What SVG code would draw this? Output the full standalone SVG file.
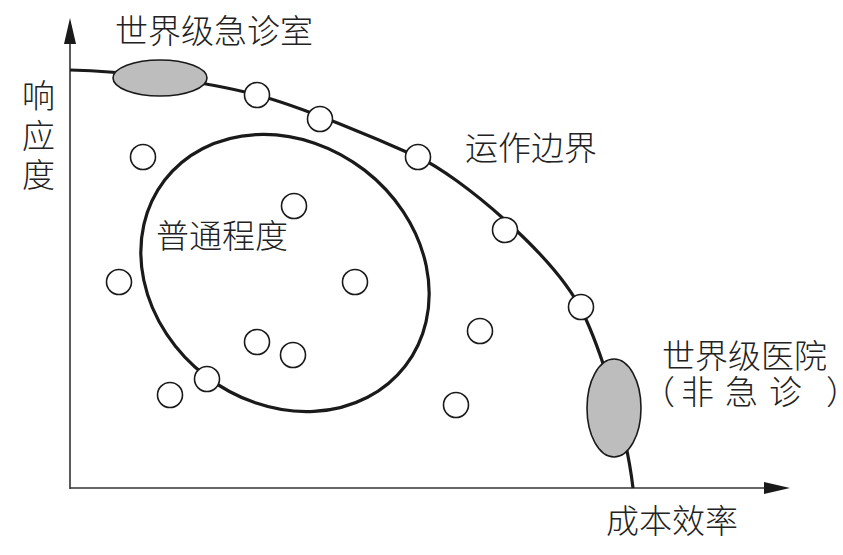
<svg xmlns="http://www.w3.org/2000/svg" width="843" height="555" viewBox="0 0 843 555">
<style>
.t{font-family:"Noto Sans CJK SC","Noto Sans CJK JP",sans-serif;font-size:33px;fill:#222;font-weight:300}
.dot{fill:#fff;stroke:#1a1a1a;stroke-width:1.6}
.blob{fill:#bdbdbd;stroke:#1a1a1a;stroke-width:1.6}
.ax{stroke:#333;stroke-width:1.6;fill:none}
.line{stroke:#1a1a1a;stroke-width:3.2;fill:none}
.head{fill:#1a1a1a}
</style>
<rect width="843" height="555" fill="#fff"/>
<g id="connectors">
<path class="ax" d="M70,489 V40"/>
<path class="head" d="M64,44 L70,18 L76,44 Z"/>
<path class="ax" d="M70,488 H766"/>
<path class="head" d="M764,482 L790,488 L764,494 Z"/>
<path class="line" d="M70,70 C120,71 200,80 257,95 C300,106 380,140 418,157 C458,175 555,255 583,313 C597,342 625,420 633,488"/>
</g>
<g id="ordinary">
<ellipse cx="285" cy="273" rx="152" ry="130" transform="rotate(37.7 285 273)" class="line"/>
</g>
<g id="er"><ellipse class="blob" cx="160" cy="78" rx="47" ry="18"/></g>
<g id="hospital"><ellipse class="blob" cx="614" cy="408" rx="27" ry="49"/></g>
<g id="dots">
<circle class="dot" cx="257" cy="95" r="12.5"/>
<circle class="dot" cx="320" cy="119" r="12.5"/>
<circle class="dot" cx="418" cy="157" r="12.5"/>
<circle class="dot" cx="505" cy="230" r="12.5"/>
<circle class="dot" cx="581" cy="307" r="12.5"/>
<circle class="dot" cx="143" cy="157" r="12.5"/>
<circle class="dot" cx="294" cy="206" r="12.5"/>
<circle class="dot" cx="355" cy="282" r="12.5"/>
<circle class="dot" cx="119" cy="282" r="12.5"/>
<circle class="dot" cx="257" cy="342" r="12.5"/>
<circle class="dot" cx="293" cy="355" r="12.5"/>
<circle class="dot" cx="207" cy="379" r="12.5"/>
<circle class="dot" cx="170" cy="395" r="12.5"/>
<circle class="dot" cx="480" cy="331" r="12.5"/>
<circle class="dot" cx="456" cy="405" r="12.5"/>
</g>
<g id="labels">
<text class="t" x="115" y="43">世界级急诊室</text>
<text class="t" x="465" y="160">运作边界</text>
<text class="t" x="156" y="248">普通程度</text>
<text class="t" x="662" y="368">世界级医院</text>
<text class="t" y="404"><tspan x="642">（</tspan><tspan x="681">非</tspan><tspan x="725">急</tspan><tspan x="769">诊</tspan><tspan x="826">）</tspan></text>
<text class="t" x="606" y="533">成本效率</text>
<text class="t" x="22" y="108">响</text>
<text class="t" x="22" y="148">应</text>
<text class="t" x="22" y="187">度</text>
</g>
</svg>
